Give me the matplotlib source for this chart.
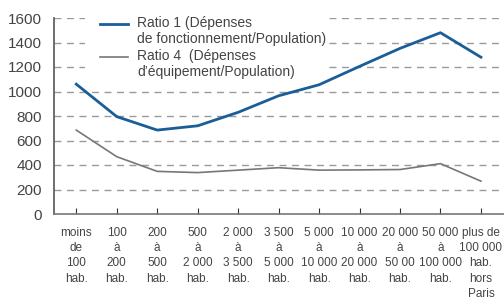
import matplotlib.pyplot as plt
from matplotlib.lines import Line2D
from matplotlib.patches import Rectangle

# data
categories = [
    "moins\nde\n100\nhab.",
    "100\nà\n200\nhab.",
    "200\nà\n500\nhab.",
    "500\nà\n2 000\nhab.",
    "2 000\nà\n3 500\nhab.",
    "3 500\nà\n5 000\nhab.",
    "5 000\nà\n10 000\nhab.",
    "10 000\nà\n20 000\nhab.",
    "20 000\nà\n50 00\nhab.",
    "50 000\nà\n100 000\nhab.",
    "plus de\n100 000\nhab.\nhors\nParis",
]
ratio1 = [1060, 795, 685, 720, 830, 965, 1055, 1205, 1352, 1480, 1280]
ratio4 = [685, 468, 348, 338, 358, 378, 358, 360, 363, 411, 268]
yticks = [0, 200, 400, 600, 800, 1000, 1200, 1400, 1600]

blue = "#1a5d97"
grey_line = "#777777"
text_col = "#444444"
font = ["Liberation Sans", "DejaVu Sans"]

fig = plt.figure(figsize=(5.04, 3.01), dpi=100)
W, H = 504, 301
ax = fig.add_axes([54 / W, (H - 214) / H, (W - 54) / W, (214 - 18) / H])

x = list(range(len(categories)))
ax.plot(x, ratio1, color=blue, lw=2.0, zorder=3)
ax.plot(x, ratio4, color=grey_line, lw=1.2, zorder=3)

ax.set_xlim(-0.55, 10.57)
ax.set_ylim(0, 1600)

for v in yticks[1:]:
    ax.axhline(v, color="#9a9a9a", lw=1.0, ls=(0, (5, 4)), zorder=1)

for s in ["top", "right"]:
    ax.spines[s].set_visible(False)
ax.spines["left"].set_color("#555555")
ax.spines["bottom"].set_color("#777777")
ax.spines["left"].set_linewidth(1.2)
ax.spines["bottom"].set_linewidth(1.2)

ax.set_yticks(yticks)
ax.set_yticklabels([str(v) for v in yticks], fontsize=11, color=text_col,
                   family=font)
ax.tick_params(axis="y", length=0, pad=8.5)

ax.set_xticks(x)
ax.set_xticklabels(categories, fontsize=8.5, color=text_col, family=font,
                   linespacing=1.35, va="top", ha="center")
ax.tick_params(axis="x", direction="in", length=4, color="#333333", pad=9.5)

# legend drawn by hand so the handle lines up with the first text line
ax.add_patch(Rectangle((85 / W, 1 - 77 / H), (326 - 85) / W, 69 / H,
                       transform=fig.transFigure, facecolor="white",
                       edgecolor="none", zorder=2, clip_on=False))
fig.add_artist(Line2D([100 / W, 128 / W], [1 - 24 / H, 1 - 24 / H],
                      color=blue, lw=2.0, zorder=3))
fig.add_artist(Line2D([100 / W, 128 / W], [1 - 57 / H, 1 - 57 / H],
                      color=grey_line, lw=1.2, zorder=3))
fig.text(137 / W, 1 - 16 / H, "Ratio 1 (Dépenses\nde fonctionnement/Population)",
         fontsize=10, color=text_col, va="top", ha="left", linespacing=1.2,
         family=font, zorder=3)
fig.text(137 / W, 1 - 49 / H, "Ratio 4  (Dépenses\nd’équipement/Population)",
         fontsize=10, color=text_col, va="top", ha="left", linespacing=1.2,
         family=font, zorder=3)

fig.savefig("out.png", dpi=100)
